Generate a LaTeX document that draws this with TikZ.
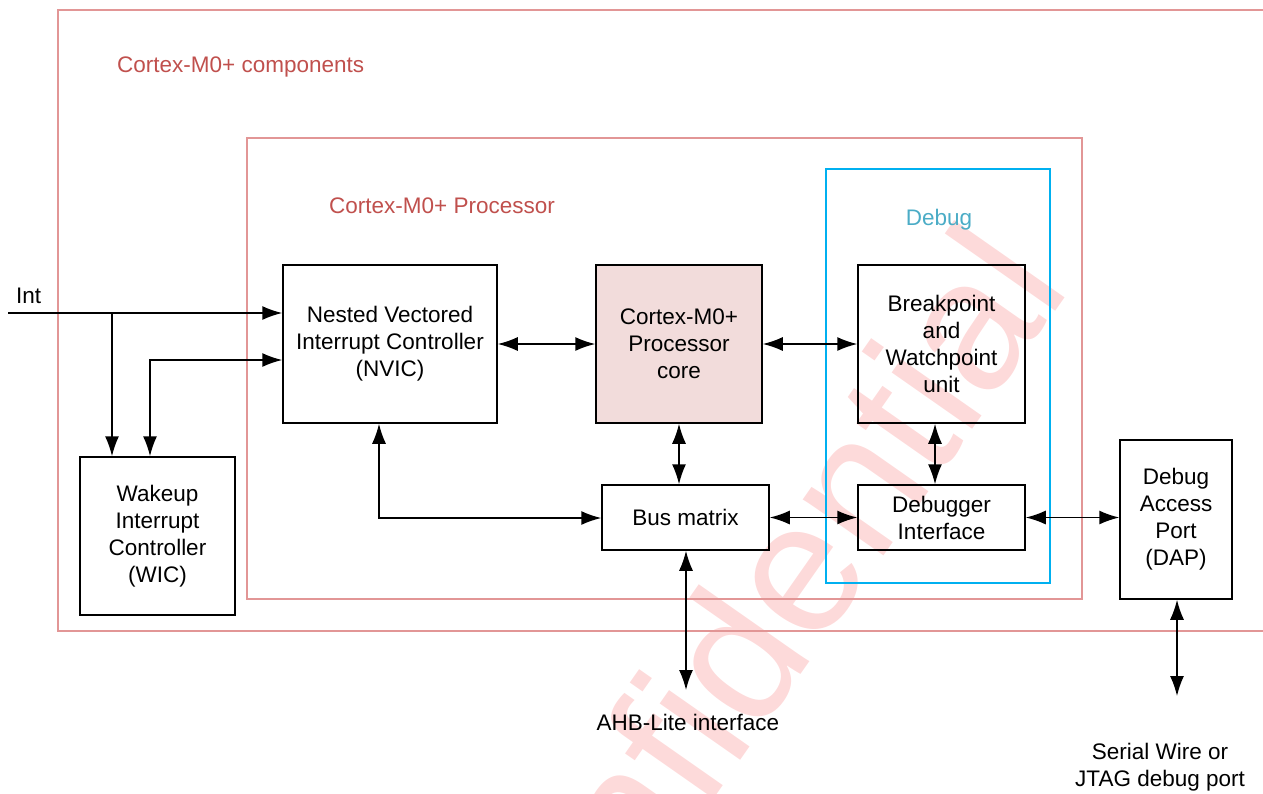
\documentclass[tikz,border=0pt]{standalone}
\usepackage{fontspec}
\setmainfont{Liberation Sans}
\usetikzlibrary{arrows.meta}
\definecolor{frame}{RGB}{226,150,150}
\definecolor{redtxt}{RGB}{192,80,77}
\definecolor{cyanline}{RGB}{0,176,240}
\definecolor{debugtxt}{RGB}{75,172,198}
\definecolor{corefill}{RGB}{242,220,219}
\definecolor{wm}{RGB}{253,218,218}
\begin{document}
\begin{tikzpicture}[x=1pt,y=-1pt,
  >={Latex[length=20pt,width=14pt]},
  box/.style={draw=black, line width=1.5pt, align=center, inner sep=0pt,
    font=\fontsize{22.5}{27}\selectfont},
  lbl/.style={inner sep=0pt, align=center, font=\fontsize{22.5}{27}\selectfont},
  conn/.style={line width=1.5pt, <->},
  arr/.style={line width=1.5pt, ->}]
\useasboundingbox (0,0) rectangle (1263,793);
\begin{scope}
  \clip (0,0) rectangle (1263,793);
  \node[rotate=55, anchor=base east, text=wm, inner sep=0pt,
    font=\fontsize{186}{186}\selectfont] (wmark) at (1072,287) {Confidential};
  \draw[frame, line width=1.5pt] (1270,10) -- (58,10) -- (58,631) -- (1270,631);
\end{scope}
\draw[frame, line width=1.5pt] (247,138) rectangle (1082,599);
\draw[cyanline, line width=1.5pt] (826,169) rectangle (1050,583);

\node[lbl, anchor=west, text=redtxt] (comp) at (117,67) {Cortex-M0+ components};
\node[lbl, anchor=west, text=redtxt] (proc) at (329,206) {Cortex-M0+ Processor};
\node[lbl, text=debugtxt] (dbgl) at (939,220) {Debug};

\node[box, minimum width=214, minimum height=158] (nvic) at (390,344) {Nested Vectored\\Interrupt Controller\\(NVIC)};
\node[box, fill=corefill, minimum width=166, minimum height=158] (core) at (679,344) {Cortex-M0+\\Processor\\core};
\node[box, minimum width=167, minimum height=158] (bwu) at (941.5,344) {Breakpoint\\and\\Watchpoint\\unit};
\node[box, minimum width=167, minimum height=65] (bus) at (685.5,517.5) {Bus matrix};
\node[box, minimum width=167, minimum height=65] (dbg) at (941.5,517.5) {Debugger\\Interface};
\node[box, minimum width=155, minimum height=158] (wic) at (157.5,536) {Wakeup\\Interrupt\\Controller\\(WIC)};
\node[box, minimum width=112, minimum height=159] (dap) at (1176,519.5) {Debug\\Access\\Port\\(DAP)};

\node[lbl, anchor=west] (intl) at (16,296) {Int};
\node[lbl] (ahbl) at (688,722) {AHB-Lite interface};
\node[lbl] (swjl) at (1160,767.5) {Serial Wire or\\JTAG debug port};

\coordinate (intstart) at (8,313);
\coordinate (br) at (112,313);
\coordinate (wk) at (150,360);
\coordinate (nb) at (379,518);
\coordinate (ahb) at (686,690);
\coordinate (swj) at (1177,696);

\draw[arr] (intstart) -- (nvic.west |- intstart);
\draw[arr] (br) -- (br |- wic.north);
\draw[conn] (wk |- wic.north) -- (wk) -- (nvic.west |- wk);
\draw[conn] (nvic.east) -- (core.west);
\draw[conn] (core.east) -- (bwu.west);
\draw[conn] (core.south) -- (core.south |- bus.north);
\draw[conn] ([xshift=-6.5pt]bwu.south) -- ([xshift=-6.5pt]bwu.south |- dbg.north);
\draw[conn] (bus.east) -- (dbg.west);
\draw[conn] (dbg.east) -- (dbg.east -| dap.west);
\draw[conn] (nb |- nvic.south) -- (nb) -- (bus.west |- nb);
\draw[conn] (ahb |- bus.south) -- (ahb);
\draw[conn] (swj |- dap.south) -- (swj);
\end{tikzpicture}
\end{document}
